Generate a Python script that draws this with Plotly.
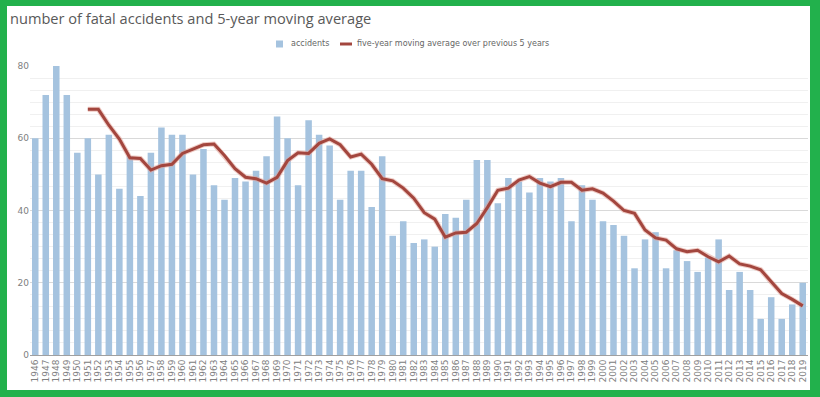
import plotly.graph_objects as go

years = [str(y) for y in range(1946, 2020)]

accidents = [60, 72, 80, 72, 56, 60, 50, 61, 46, 55,
             44, 56, 63, 61, 61, 50, 57, 47, 43, 49,
             48, 51, 55, 66, 60, 47, 65, 61, 58, 43,
             51, 51, 41, 55, 33, 37, 31, 32, 30, 39,
             38, 43, 54, 54, 42, 49, 48, 45, 49, 48,
             49, 37, 47, 43, 37, 36, 33, 24, 32, 34,
             24, 29, 26, 23, 27, 32, 18, 23, 18, 10,
             16, 10, 14, 20]

ma_years = [str(y) for y in range(1951, 2020)]
moving_avg = [68.0, 68.0, 63.6, 59.8, 54.6, 54.4, 51.2, 52.4, 52.8, 55.8,
              57.0, 58.2, 58.4, 55.2, 51.6, 49.2, 48.8, 47.6, 49.2, 53.8,
              56.0, 55.8, 58.6, 59.8, 58.2, 54.8, 55.6, 52.8, 48.8, 48.2,
              46.2, 43.4, 39.4, 37.6, 32.6, 33.8, 34.0, 36.4, 40.8, 45.6,
              46.2, 48.4, 49.4, 47.6, 46.6, 47.8, 47.8, 45.6, 46.0, 44.8,
              42.6, 40.0, 39.2, 34.6, 32.4, 31.8, 29.4, 28.6, 29.0, 27.2,
              25.8, 27.4, 25.2, 24.6, 23.6, 20.2, 17.0, 15.4, 13.6]

y_ticks = [0, 20, 40, 60, 80]

series_names = ["accidents", "five-year moving average over previous 5 years"]
bar_color = "#A5C3DF"
line_color = "#A3463E"

W, H = 820, 397
ML, MR, MT, MB = 30, 12, 66, 42
PW = W - ML - MR
PH = H - MT - MB


def px2x(px):
    return (px - ML) / PW


def px2y(py):
    return (H - MB - py) / PH


fig = go.Figure()
fig.add_trace(go.Bar(
    x=years, y=accidents, name=series_names[0], showlegend=False,
    marker=dict(color=bar_color, line=dict(width=0)),
))
fig.add_trace(go.Scatter(
    x=ma_years, y=moving_avg, mode="lines", showlegend=False,
    line=dict(color="rgba(225,160,150,0.55)", width=5), hoverinfo="skip",
))
fig.add_trace(go.Scatter(
    x=ma_years, y=moving_avg, mode="lines", showlegend=False,
    name=series_names[1],
    line=dict(color=line_color, width=3),
))

green = "#22B14C"
shapes = []
for (x0, y0, x1, y1) in [(0, 0, 7, H), (810, 0, W, H), (0, 0, W, 6), (0, 390, W, H)]:
    shapes.append(dict(type="rect", xref="paper", yref="paper",
                       x0=px2x(x0), x1=px2x(x1), y0=px2y(y1), y1=px2y(y0),
                       fillcolor=green, line=dict(width=0), layer="above"))

# legend drawn by hand (short line symbol like the reference)
LEG_Y = 44
shapes.append(dict(type="rect", xref="paper", yref="paper",
                   x0=px2x(276), x1=px2x(283), y0=px2y(LEG_Y + 3.5), y1=px2y(LEG_Y - 3.5),
                   fillcolor=bar_color, line=dict(width=0)))
shapes.append(dict(type="line", xref="paper", yref="paper",
                   x0=px2x(340), x1=px2x(352), y0=px2y(LEG_Y), y1=px2y(LEG_Y),
                   line=dict(color=line_color, width=3)))
annotations = [
    dict(text=series_names[0], xref="paper", yref="paper", x=px2x(289), y=px2y(LEG_Y),
         xanchor="left", yanchor="middle", showarrow=False,
         font=dict(family="DejaVu Sans", size=8, color="#666666")),
    dict(text=series_names[1], xref="paper", yref="paper", x=px2x(355), y=px2y(LEG_Y),
         xanchor="left", yanchor="middle", showarrow=False,
         font=dict(family="DejaVu Sans", size=8, color="#666666")),
]

fig.update_layout(
    width=W, height=H,
    margin=dict(l=ML, r=MR, t=MT, b=MB),
    paper_bgcolor="white", plot_bgcolor="white",
    font=dict(family="DejaVu Sans", color="#777777", size=9),
    title=dict(text="number of fatal accidents and 5-year moving average",
               x=10 / W, xanchor="left", xref="container",
               y=1 - 19 / H, yanchor="middle",
               font=dict(family="Open Sans", size=14.6, color="#595959")),
    bargap=0.38,
    showlegend=False,
    shapes=shapes,
    annotations=annotations,
)
fig.update_xaxes(type="category", tickangle=-90, showline=True, linecolor="#A0A0A0",
                 linewidth=1, ticks="", showgrid=False,
                 tickmode="array", tickvals=years, ticktext=years,
                 tickfont=dict(size=9, color="#808080"))
fig.update_yaxes(range=[0, 80], tickvals=y_ticks, showgrid=True, gridcolor="#D9D9D9",
                 zeroline=False, ticks="", showline=False,
                 tickfont=dict(size=9, color="#808080"),
                 minor=dict(dtick=20 / 6, showgrid=True, gridcolor="#F0F0F0"))

fig.write_html("out.html", config={"displayModeBar": False})
with open("out.html", encoding="utf-8") as f:
    html = f.read()
html = html.replace("<head>", "<head><style>html,body{margin:0;padding:0;overflow:hidden;}</style>", 1)
with open("out.html", "w", encoding="utf-8") as f:
    f.write(html)
